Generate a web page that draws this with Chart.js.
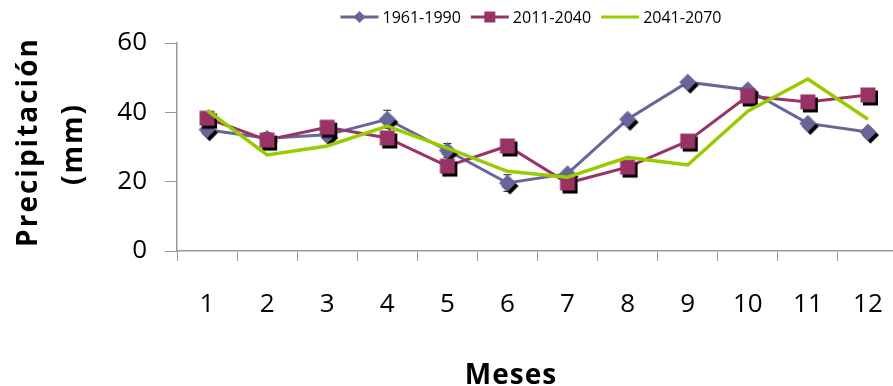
<!DOCTYPE html>
<html>
<head>
<meta charset="utf-8">
<script src="https://cdn.jsdelivr.net/npm/chart.js@4.4.0/dist/chart.umd.min.js"></script>
<style>
    html, body { margin: 0; padding: 0; background: #fff; overflow: hidden; }
    #wrap { width: 893px; height: 386px; position: relative; overflow: hidden; }
</style>
</head>
<body>
<div id="wrap"><canvas id="grafica" width="905" height="386"></canvas></div>
<script>
// datos
const meses = ['1', '2', '3', '4', '5', '6', '7', '8', '9', '10', '11', '12'];
const serie1961 = [35, 32.5, 33.5, 38, 29, 19.6, 22.3, 38, 48.7, 46.5, 36.8, 34.3];
const error1961 = [0, 1.6, 0, 2.6, 2.0, 2.4, 0, 0, 0, 0, 0, 0];
const serie2011 = [38.3, 32, 35.7, 32.6, 24.5, 30.3, 19.6, 24.2, 31.7, 44.7, 43, 45];
const serie2041 = [40.6, 27.7, 30.3, 36, 29.7, 23, 21.3, 27, 24.8, 40.3, 49.6, 38];
const nombres = ['1961-1990', '2011-2040', '2041-2070'];
const colores = ['#666699', '#993366', '#99cc00'];
const ticksY = [0, 20, 40, 60];
const tituloY = ['Precipitación', '(mm)'];
const tituloX = 'Meses';

function marcador(tipo, color, sombra) {
    const c = document.createElement('canvas');
    c.width = 26; c.height = 26;
    const g = c.getContext('2d');
    const forma = (cx, cy) => {
        g.beginPath();
        if (tipo === 'diamond') {
            g.moveTo(cx, cy - 8.5); g.lineTo(cx + 8.5, cy); g.lineTo(cx, cy + 8.5); g.lineTo(cx - 8.5, cy);
        } else {
            g.rect(cx - 7.5, cy - 7.5, 15, 15);
        }
        g.closePath();
        g.fill();
    };
    if (sombra) {
        g.fillStyle = '#000';
        forma(15.5, 16);
    }
    g.fillStyle = color;
    forma(13, 13);
    return c;
}

const pDiamante = marcador('diamond', colores[0], true);
const pCuadro = marcador('square', colores[1], true);

const pluginExtras = {
    id: 'extras',
    beforeDatasetDraw(chart, args) {
        if (args.index !== 0) return;
        const ctx = chart.ctx;
        const x = chart.scales.x, y = chart.scales.y;
        ctx.save();
        ctx.strokeStyle = '#222';
        ctx.lineWidth = 1;
        error1961.forEach((e, i) => {
            if (!e) return;
            const px = x.getPixelForValue(i);
            const top = y.getPixelForValue(serie1961[i] + e);
            const bot = y.getPixelForValue(serie1961[i] - e);
            ctx.beginPath();
            ctx.moveTo(px, top); ctx.lineTo(px, bot);
            ctx.moveTo(px - 4, top); ctx.lineTo(px + 4, top);
            ctx.moveTo(px - 4, bot); ctx.lineTo(px + 4, bot);
            ctx.stroke();
        });
        ctx.restore();
    },
    afterDraw(chart) {
        const ctx = chart.ctx;
        ctx.save();
        // leyenda
        ctx.font = '16px "Open Sans"';
        ctx.textBaseline = 'middle';
        const anchos = nombres.map(n => ctx.measureText(n).width);
        const total = anchos.reduce((a, b) => a + b, 0) + 3 * 42 + 2 * 10;
        let lx = 531 - total / 2;
        const ly = 17;
        nombres.forEach((n, i) => {
            ctx.strokeStyle = colores[i];
            ctx.lineWidth = 3;
            ctx.beginPath();
            ctx.moveTo(lx, ly); ctx.lineTo(lx + 38, ly);
            ctx.stroke();
            ctx.fillStyle = colores[i];
            const cx = lx + 19;
            if (i === 0) {
                ctx.beginPath();
                ctx.moveTo(cx, ly - 6); ctx.lineTo(cx + 6, ly); ctx.lineTo(cx, ly + 6); ctx.lineTo(cx - 6, ly);
                ctx.closePath(); ctx.fill();
            } else if (i === 1) {
                ctx.fillRect(cx - 5.5, ly - 5.5, 11, 11);
            }
            ctx.fillStyle = '#000';
            ctx.textAlign = 'left';
            ctx.fillText(n, lx + 42, ly + 1);
            lx += 42 + anchos[i] + 10;
        });
        // titulos de ejes
        ctx.fillStyle = '#000';
        ctx.font = 'bold 28px "Open Sans"';
        ctx.letterSpacing = '2px';
        ctx.textAlign = 'center';
        ctx.textBaseline = 'alphabetic';
        ctx.save();
        ctx.translate(37, 142);
        ctx.rotate(-Math.PI / 2);
        ctx.fillText(tituloY[0], 0, 0);
        ctx.restore();
        ctx.save();
        ctx.translate(82, 144);
        ctx.rotate(-Math.PI / 2);
        ctx.fillText(tituloY[1], 0, 0);
        ctx.restore();
        ctx.letterSpacing = '1px';
        ctx.fillText(tituloX, 511, 384);
        ctx.restore();
    }
};

const ctx = document.getElementById('grafica').getContext('2d');
new Chart(ctx, {
    type: 'line',
    data: {
        labels: meses,
        datasets: [
            {
                label: nombres[0],
                data: serie1961,
                borderColor: colores[0],
                borderWidth: 3,
                pointStyle: pDiamante,
                order: 3
            },
            {
                label: nombres[1],
                data: serie2011,
                borderColor: colores[1],
                borderWidth: 3,
                pointStyle: pCuadro,
                order: 2
            },
            {
                label: nombres[2],
                data: serie2041,
                borderColor: colores[2],
                borderWidth: 3.5,
                pointRadius: 0,
                order: 1
            }
        ]
    },
    options: {
        responsive: false,
        animation: false,
        events: [],
        layout: { padding: { top: 43, left: 100, right: 0, bottom: 68 } },
        elements: { line: { tension: 0 } },
        plugins: {
            legend: { display: false },
            tooltip: { enabled: false }
        },
        scales: {
            x: {
                offset: true,
                grid: {
                    offset: true,
                    drawOnChartArea: false,
                    tickLength: 10,
                    color: '#999'
                },
                border: { color: '#999', width: 1.5 },
                ticks: {
                    color: '#000',
                    font: { family: 'Open Sans', size: 26 },
                    padding: 28,
                    maxRotation: 0
                },
                afterFit(scale) {
                    scale.height = 67;
                    scale.paddingLeft = 0;
                    scale.paddingRight = 0;
                }
            },
            y: {
                min: 0,
                max: 60,
                afterBuildTicks(scale) { scale.ticks = ticksY.map(v => ({ value: v })); },
                grid: {
                    drawOnChartArea: false,
                    tickLength: 12,
                    color: '#999'
                },
                border: { color: '#999', width: 1.5 },
                ticks: {
                    color: '#000',
                    font: { family: 'Open Sans', size: 26 },
                    padding: 18
                },
                afterFit(scale) { scale.width = 77; }
            }
        }
    },
    plugins: [pluginExtras]
});
</script>
</body>
</html>
